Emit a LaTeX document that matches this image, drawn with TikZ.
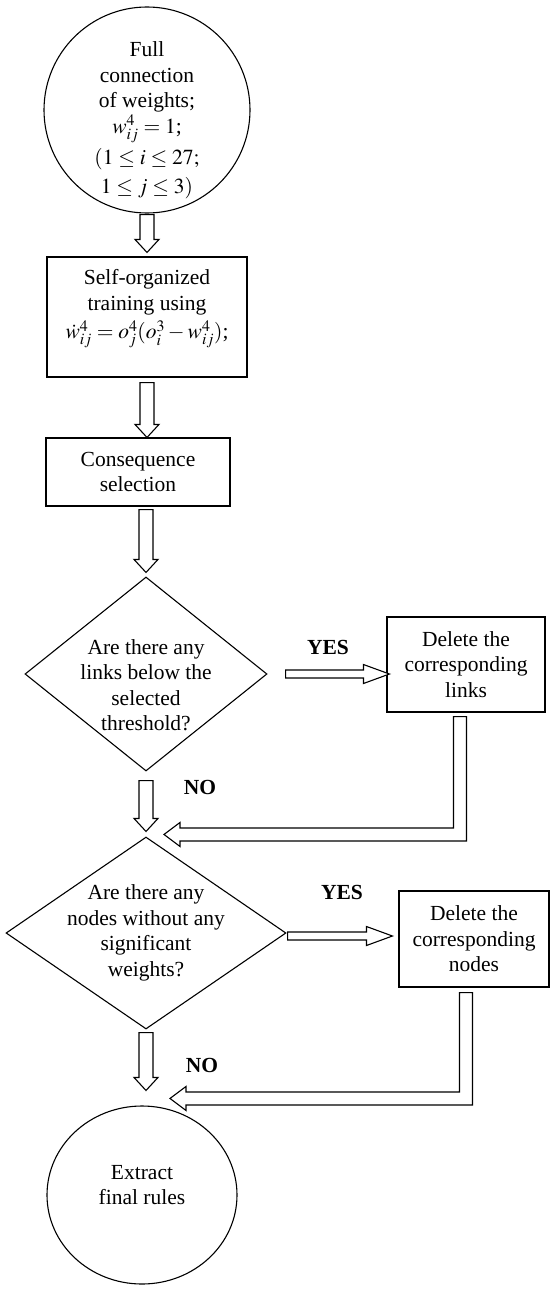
\documentclass[tikz,border=0pt]{standalone}
\usepackage{mathptmx}
\usepackage{fontspec}
\setmainfont{Liberation Serif}
\usetikzlibrary{calc,shapes.geometric}
\tikzset{
    every node/.style={font=\fontsize{21.5}{25.5}\selectfont},
    blockarrow/.style={
        draw,
        line width=1.1pt,
        line join=miter,
        fill=white
    }
}
% hollow block arrows: start point, tip
\newcommand{\blockdown}[2]{%
  \draw[blockarrow] let \p1=#1, \p2=#2 in
    (\x1-7pt,\y1) -- (\x1-7pt,\y2+13pt) -- (\x1-12pt,\y2+13pt) -- (\x1,\y2)
    -- (\x1+12pt,\y2+13pt) -- (\x1+7pt,\y2+13pt) -- (\x1+7pt,\y1) -- cycle;}
\newcommand{\blockright}[2]{%
  \draw[blockarrow] let \p1=#1, \p2=#2 in
    (\x1,\y1+4pt) -- (\x2-26pt,\y1+4pt) -- (\x2-26pt,\y1+9.5pt) -- (\x2,\y1)
    -- (\x2-26pt,\y1-9.5pt) -- (\x2-26pt,\y1-4pt) -- (\x1,\y1-4pt) -- cycle;}
\newcommand{\blockelbow}[2]{%
  \draw[blockarrow] let \p1=#1, \p2=#2 in
    (\x1-6.5pt,\y1) -- (\x1-6.5pt,\y2+6.5pt) -- (\x2+16pt,\y2+6.5pt)
    -- (\x2+16pt,\y2+12pt) -- (\x2,\y2) -- (\x2+16pt,\y2-12pt)
    -- (\x2+16pt,\y2-6.5pt) -- (\x1+6.5pt,\y2-6.5pt) -- (\x1+6.5pt,\y1) -- cycle;}

\begin{document}
\begin{tikzpicture}[x=1pt,y=-1pt]
  % Styles for the flow chart
  \tikzset{
    startend/.style={
      draw,
      circle,
      line width=1.1pt,
      align=center,
      inner sep=0pt
    },
    procbox/.style={
      draw,
      rectangle,
      line width=1.1pt,
      align=center,
      inner sep=2pt
    },
    decision/.style={
      draw,
      diamond,
      line width=1.1pt,
      align=center,
      inner sep=-12pt
    },
    answer/.style={
      font=\fontsize{21.5}{25.5}\selectfont\bfseries
    }
  }
  \useasboundingbox (0,0) rectangle (551,1290);

  % Main column
  \node[startend, minimum size=206pt] (fullconn) at (147,110)
    {\rule{0pt}{35pt}Full\\connection\\of weights;\\$w^4_{ij}=1$;\\[6pt]$(1\le i\le 27;$\\[3pt]$1\le j\le 3)$};
  \node[procbox, minimum width=200pt, minimum height=120pt] (selftrain) at (147,317)
    {Self-organized\\training using\\[3pt]$\dot{w}^4_{ij}=o^4_j(o^3_i-w^4_{ij})$;\\\mbox{}};
  \node[procbox, minimum width=184pt, minimum height=68pt] (conseq) at (138,472)
    {Consequence\\selection};
  \node[decision, aspect=1.247, minimum width=242pt, minimum height=194pt] (linkq) at (146,674)
    {\rule{0pt}{37pt}Are there any\\links below the\\selected\\threshold?};
  \node[decision, aspect=1.458, minimum width=280pt, minimum height=192pt] (nodeq) at (146,933)
    {Are there any\\nodes without any\\significant\\weights?};
  \node[draw, ellipse, line width=1.1pt, align=center, inner sep=0pt,
        minimum width=190pt, minimum height=178pt] (final) at (142,1195)
    {Extract\\final rules\rule[-20pt]{0pt}{0pt}};

  % Side boxes
  \node[procbox, minimum width=158pt, minimum height=95pt] (dellinks) at (466,664.5)
    {Delete the\\corresponding\\links};
  \node[procbox, minimum width=150pt, minimum height=96pt] (delnodes) at (474,939)
    {Delete the\\corresponding\\nodes};

  % Answers
  \node[answer] (yes1) at (328,647) {YES};
  \node[answer] (no1) at (200,787) {NO};
  \node[answer] (yes2) at (342,892) {YES};
  \node[answer] (no2) at (202,1065) {NO};

  % Block arrows
  \blockdown{($(fullconn.south)+(0,-1pt)$)}{($(selftrain.north)+(0,4pt)$)}
  \blockdown{($(selftrain.south)+(0,-5pt)$)}{(conseq.north -| selftrain.south)}
  \blockdown{($(conseq.south -| linkq.north)+(0,-3pt)$)}{($(linkq.north)+(0,4pt)$)}
  \blockdown{($(linkq.south)+(0,-9pt)$)}{($(nodeq.north)+(0,5pt)$)}
  \blockdown{($(nodeq.south)+(0,-3pt)$)}{($(final.north -| nodeq.south)+(0,15pt)$)}
  \blockright{($(linkq.east)+(18pt,0)$)}{($(dellinks.west)+(3pt,0)$)}
  \blockright{($(nodeq.east)+(1pt,-3pt)$)}{($(delnodes.west)+(-6pt,0)$)}
  \blockelbow{($(dellinks.south)+(-6pt,-4pt)$)}{($(nodeq.north)+(18pt,2pt)$)}
  \blockelbow{($(delnodes.south)+(-8pt,-5pt)$)}{($(final.north)+(28pt,7pt)$)}
\end{tikzpicture}
\end{document}
